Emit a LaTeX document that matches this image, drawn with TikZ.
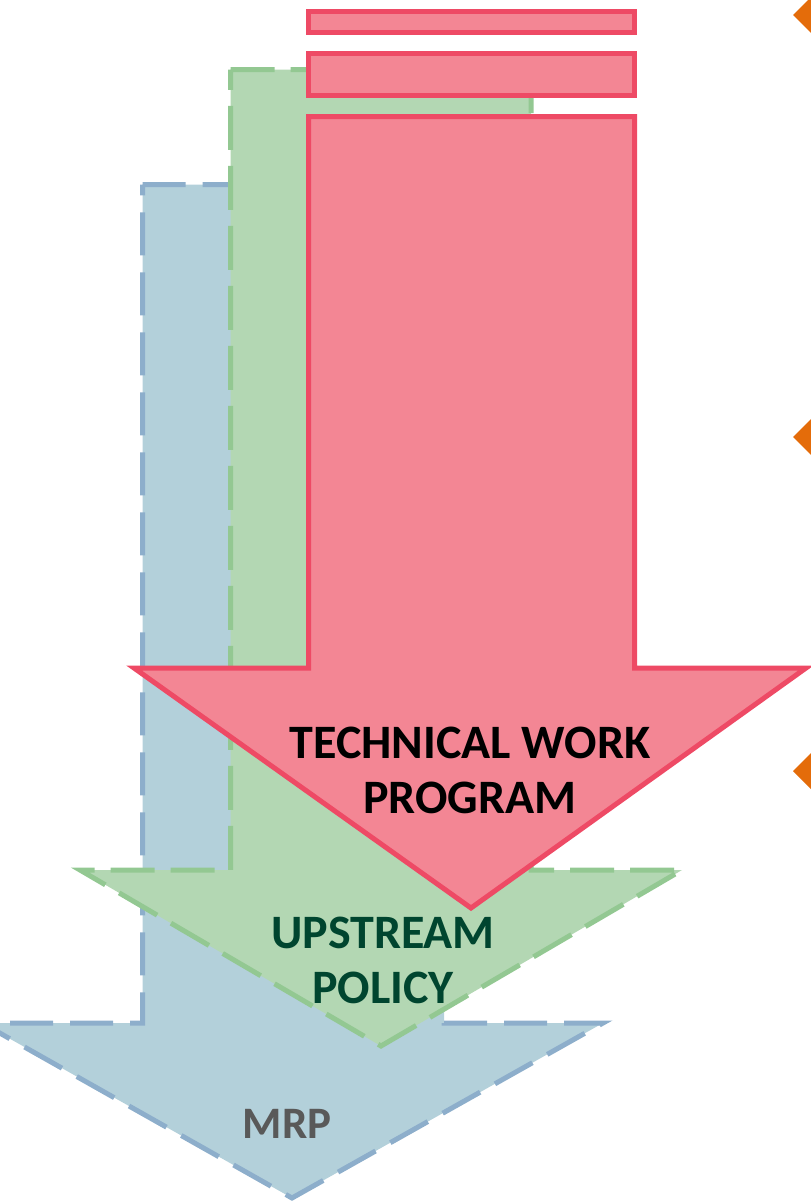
\documentclass[tikz,border=0pt]{standalone}
\usepackage{fontspec}
\setmainfont{Carlito}
\definecolor{redfill}{HTML}{F38694}
\definecolor{redline}{HTML}{EE4A65}
\definecolor{greenfill}{HTML}{B3D7B3}
\definecolor{greenline}{HTML}{93C892}
\definecolor{bluefill}{HTML}{B3D0DA}
\definecolor{blueline}{HTML}{8DAECB}
\definecolor{orangeC}{HTML}{E46C0A}
\definecolor{greentext}{HTML}{00452F}
\definecolor{graytext}{HTML}{595959}
\begin{document}
\begin{tikzpicture}[x=1pt,y=-1pt,
  redarrow/.style={fill=redfill,draw=redline,line width=5pt,line join=miter},
  greenarrow/.style={fill=greenfill,draw=greenline,line width=5pt,dash pattern=on 44pt off 16pt},
  bluearrow/.style={fill=bluefill,draw=blueline,line width=5pt,dash pattern=on 43pt off 17pt},
  lbl/.style={font=\bfseries\fontsize{48}{55}\selectfont,inner sep=0pt,anchor=base},
  diamondmark/.style={fill=orangeC,draw=none}]
\useasboundingbox (0,0) rectangle (811,1202);
\clip (0,0) rectangle (811,1202);
% blue arrow (MRP)
\draw[bluearrow] (142.5,184.5) -- (444,184.5) -- (444,1023) -- (603,1023) -- (292,1198) -- (-18,1023) -- (142.5,1023) -- cycle;
% green arrow
\draw[greenarrow] (230.5,69.5) -- (531,69.5) -- (531,870) -- (682,870) -- (381,1046) -- (80,870) -- (230.5,870) -- cycle;
% red bars
\draw[redarrow] (308.5,11.5) rectangle (634.5,32.5);
\draw[redarrow] (308.5,53.5) rectangle (634.5,95.5);
% red arrow
\draw[redarrow] (308.5,116.5) -- (634.5,116.5) -- (634.5,668) -- (806,668) -- (471,908) -- (134,668) -- (308.5,668) -- cycle;
% labels
\node[lbl] (tech1) at (470,758) {TECHNICAL WORK};
\node[lbl] (tech2) at (470,813) {PROGRAM};
\node[lbl,text=greentext] (up1) at (383,948) {UPSTREAM};
\node[lbl,text=greentext] (up2) at (383,1003) {POLICY};
\node[lbl,text=graytext,font=\bfseries\fontsize{45}{52}\selectfont] (mrp) at (287,1138) {MRP};
% orange diamonds at right edge
\fill[diamondmark] (793,15) -- (818,-10) -- (843,15) -- (818,40) -- cycle;
\fill[diamondmark] (793,437) -- (818,412) -- (843,437) -- (818,462) -- cycle;
\fill[diamondmark] (793,771) -- (818,746) -- (843,771) -- (818,796) -- cycle;
\end{tikzpicture}
\end{document}
